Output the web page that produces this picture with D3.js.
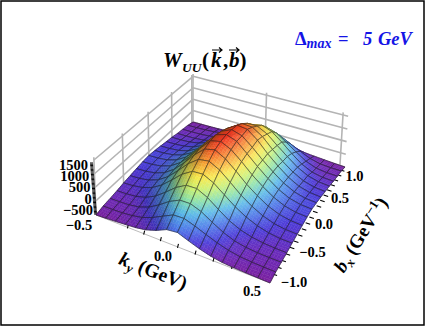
<!DOCTYPE html>
<html>
<head>
<meta charset="utf-8">
<script src="https://cdn.jsdelivr.net/npm/d3@7"></script>
<style>
  body { margin: 0; background: #fff; }
  text { font-family: "Liberation Serif", serif; font-weight: bold; }
</style>
</head>
<body>
<div id="d3-container"></div>
<script>
const kyValues = [-0.5, -0.4375, -0.375, -0.3125, -0.25, -0.1875, -0.125, -0.0625, 0, 0.0625, 0.125, 0.1875, 0.25, 0.3125, 0.375, 0.4375, 0.5];
const bxValues = [-1, -0.875, -0.75, -0.625, -0.5, -0.375, -0.25, -0.125, 0, 0.125, 0.25, 0.375, 0.5, 0.625, 0.75, 0.875, 1];

// one row per bx, one column per ky
const wValues = [
  [-500, -480, -455, -430, -400, -340, -220, -50, -10, -150, -280, -380, -440, -465, -480, -490, -500],
  [-425, -420, -405, -370, -300, -165, 20, 200, 215, 90, -60, -200, -310, -375, -405, -422, -430],
  [-390, -385, -365, -310, -180, 35, 290, 470, 475, 330, 100, -110, -260, -335, -370, -385, -390],
  [-345, -335, -300, -205, -25, 245, 545, 755, 765, 575, 295, 35, -145, -250, -310, -340, -350],
  [-290, -270, -210, -85, 140, 455, 790, 1020, 1040, 850, 555, 265, 40, -125, -230, -285, -295],
  [-250, -230, -170, -30, 215, 565, 945, 1225, 1280, 1080, 760, 430, 170, -35, -170, -235, -255],
  [-210, -190, -130, 5, 260, 625, 1040, 1380, 1470, 1255, 930, 580, 295, 55, -105, -185, -215],
  [-170, -155, -95, 35, 280, 640, 1070, 1470, 1560, 1370, 1045, 685, 385, 130, -50, -145, -175],
  [-150, -135, -85, 35, 270, 630, 1070, 1480, 1600, 1460, 1115, 760, 440, 165, -25, -120, -150],
  [-175, -160, -110, 0, 215, 555, 985, 1400, 1570, 1450, 1130, 770, 450, 165, -35, -140, -170],
  [-215, -200, -160, -60, 140, 465, 875, 1290, 1530, 1480, 1180, 780, 440, 140, -70, -175, -210],
  [-255, -245, -210, -125, 50, 340, 720, 1130, 1380, 1350, 1100, 720, 380, 100, -110, -215, -250],
  [-295, -290, -260, -190, -45, 200, 540, 900, 1180, 1180, 980, 650, 340, 50, -150, -255, -290],
  [-350, -345, -330, -290, -195, -5, 300, 640, 920, 1000, 860, 560, 230, -60, -250, -325, -345],
  [-390, -385, -370, -335, -260, -110, 120, 380, 620, 710, 590, 340, 70, -180, -330, -380, -390],
  [-430, -422, -405, -375, -310, -200, -50, 120, 310, 360, 250, 60, -130, -300, -395, -420, -425],
  [-500, -490, -480, -465, -440, -380, -280, -150, -10, -30, -220, -340, -400, -430, -455, -480, -500],
];

const zTicks = [-500, 0, 500, 1000, 1500];
const zTickLabels = ["\u2212500", "0", "500", "1000", "1500"];
const kyTickLabels = [["\u22120.5", 79, 225], ["0.0", 163, 256], ["0.5", 252, 291]];
const bxTickLabels = [["\u22121.0", 294, 282], ["\u22120.5", 312.5, 252], ["0.0", 324, 224], ["0.5", 340, 198], ["1.0", 354.5, 176]];
const kyMinor = [-0.3, -0.2, -0.1, 0, 0.1, 0.2, 0.3];
const bxMinor = [-0.9, -0.8, -0.7, -0.6, -0.5, -0.4, -0.3, -0.2, -0.1, 0, 0.1, 0.2, 0.3, 0.4, 0.5, 0.6, 0.7, 0.8, 0.9];
const wallBx = [-1, -0.5, 0, 0.5, 0.97];
const wallKy = [-0.5, 0, 0.47];

const width = 425;
const height = 327;

const svg = d3.select('#d3-container')
  .append('svg')
  .attr('width', width)
  .attr('height', height)
  .style('display', 'block');

svg.append('rect')
  .attr('x', 1).attr('y', 1)
  .attr('width', 423).attr('height', 324)
  .attr('fill', '#fff')
  .attr('stroke', '#000')
  .attr('stroke-width', 1.5);

// floor corners on screen, used for the perspective of the box
const L = [96, 215], F = [270, 283], R = [345, 167], B = [193, 122];
const det = (F[0] - R[0]) * (B[1] - R[1]) - (B[0] - R[0]) * (F[1] - R[1]);
const sx = L[0] - F[0] + R[0] - B[0];
const sy = L[1] - F[1] + R[1] - B[1];
const pg = (sx * (B[1] - R[1]) - (B[0] - R[0]) * sy) / det;
const ph = ((F[0] - R[0]) * sy - (F[1] - R[1]) * sx) / det;

const uScale = d3.scaleLinear().domain([-0.5, 0.5]).range([0, 1]);
const vScale = d3.scaleLinear().domain([-1, 1]).range([0, 1]);
const zScale = d3.scaleLinear().domain([-500, 1500]).range([0, 55]);

function project(ky, bx, z) {
  const u = uScale(ky), v = vScale(bx);
  const D = 1 + pg * u + ph * v;
  const X = ((F[0] - L[0] + pg * F[0]) * u + (B[0] - L[0] + ph * B[0]) * v + L[0]) / D;
  const Y = ((F[1] - L[1] + pg * F[1]) * u + (B[1] - L[1] + ph * B[1]) * v + L[1]) / D;
  const h = zScale(z) / D;
  return [X + (X - 190) * 0.0004 * h, Y - h];
}

const color = d3.scaleLinear()
  .domain([-500, -370, -190, 40, 280, 510, 730, 960, 1250, 1600])
  .range(['#7a1f9e', '#6a28b8', '#4838d8', '#4a78e8', '#55b8e8', '#88e0a8', '#c8f070', '#f8e848', '#f89830', '#ee2a1c'])
  .clamp(true);

// light comes from the front right, so slopes rising with ky are darker
function shaded(z, slope) {
  const c = d3.rgb(color(z));
  const s = Math.max(-1, Math.min(1, slope / 400));
  if (s > 0) return d3.rgb(c.r * (1 - 0.42 * s), c.g * (1 - 0.42 * s), c.b * (1 - 0.42 * s)) + '';
  return d3.interpolateRgb(c, '#fff')(-0.18 * s);
}

const line = d3.line();
const wall = svg.append('g').attr('fill', 'none').attr('stroke', '#b4b4b4').attr('stroke-width', 1.6);
const zTop = 1600;

zTicks.forEach(z => {
  wall.append('path').attr('d', line([project(-0.5, -1, z), project(-0.5, 1, z)]));
  wall.append('path').attr('d', line([project(-0.5, 1, z), project(0.5, 1, z)]));
});
wallBx.forEach(b => wall.append('path').attr('d', line([project(-0.5, b, -500), project(-0.5, b, zTop)])));
wallKy.forEach(k => wall.append('path').attr('d', line([project(k, 1, -500), project(k, 1, zTop)])));

// axes under the surface
const axes = svg.append('g');
axes.append('path')
  .attr('d', line([project(-0.5, -1, -500), project(0.5, -1, -500)]))
  .attr('stroke', '#aaa').attr('fill', 'none').attr('stroke-width', 0.8);
kyMinor.forEach(k => {
  const [x, y] = project(k, -1, -500);
  axes.append('path').attr('d', line([[x, y + 1], [x + 1, y - 3]]))
    .attr('stroke', '#000').attr('stroke-width', 1.1);
});
bxMinor.forEach(b => {
  const [x, y] = project(0.5, b, -500);
  axes.append('path').attr('d', line([[x - 2, y - 2], [x + 2.5, y - 0.5]]))
    .attr('stroke', '#000').attr('stroke-width', 1.1);
});

const zAxisX = d3.scaleLinear().domain([-500, 1500]).range([96, 92]);
const zAxisY = d3.scaleLinear().domain([-500, 1500]).range([214, 163]);
d3.range(-500, 1501, 50).forEach(z => {
  axes.append('path')
    .attr('d', line([[zAxisX(z) - 2, zAxisY(z)], [zAxisX(z) + 1, zAxisY(z)]]))
    .attr('stroke', '#000').attr('stroke-width', 1);
});

// surface, far cells first. each cell is cut finer only to shade it smoothly
const surface = svg.append('g');
const nx = kyValues.length, ny = bxValues.length;
const slopeAt = (i, j) => (wValues[j][Math.min(i + 1, nx - 1)] - wValues[j][Math.max(i - 1, 0)]) / (Math.min(i + 1, nx - 1) - Math.max(i - 1, 0));
const steps = 4;
const lerp = (a, b, t) => a + (b - a) * t;

for (let j = ny - 2; j >= 0; j--) {
  for (let i = 0; i < nx - 1; i++) {
    const k0 = kyValues[i], k1 = kyValues[i + 1], b0 = bxValues[j], b1 = bxValues[j + 1];
    const z00 = wValues[j][i], z10 = wValues[j][i + 1], z01 = wValues[j + 1][i], z11 = wValues[j + 1][i + 1];
    const s00 = slopeAt(i, j), s10 = slopeAt(i + 1, j), s01 = slopeAt(i, j + 1), s11 = slopeAt(i + 1, j + 1);
    const bil = (a, b, c, d, p, q) => lerp(lerp(a, b, p), lerp(c, d, p), q);
    const at = (p, q) => project(lerp(k0, k1, p), lerp(b0, b1, q), bil(z00, z10, z01, z11, p, q));

    for (let q = steps - 1; q >= 0; q--) {
      for (let p = 0; p < steps; p++) {
        const p0 = p / steps, p1 = (p + 1) / steps, q0 = q / steps, q1 = (q + 1) / steps;
        const pm = (p0 + p1) / 2, qm = (q0 + q1) / 2;
        const fill = shaded(bil(z00, z10, z01, z11, pm, qm), bil(s00, s10, s01, s11, pm, qm));
        surface.append('path')
          .attr('d', line([at(p0, q0), at(p1, q0), at(p1, q1), at(p0, q1)]) + 'Z')
          .attr('fill', fill)
          .attr('stroke', fill)
          .attr('stroke-width', 0.4);
      }
    }
    surface.append('path')
      .attr('d', line([at(0, 0), at(1, 0), at(1, 1), at(0, 1)]) + 'Z')
      .attr('fill', 'none')
      .attr('stroke', '#1a1a1a')
      .attr('stroke-opacity', 0.7)
      .attr('stroke-width', 0.75);
  }
}

// tick labels
const labels = svg.append('g').attr('font-size', 14.5).attr('fill', '#000');
const zLabelX = d3.scaleLinear().domain([-500, 1500]).range([93, 88]);
const zLabelY = d3.scaleLinear().domain([-500, 1500]).range([215, 169.5]);
zTicks.forEach((z, i) => {
  labels.append('text')
    .attr('x', zLabelX(z)).attr('y', zLabelY(z))
    .attr('text-anchor', 'end')
    .text(zTickLabels[i]);
});
kyTickLabels.concat(bxTickLabels).forEach(([t, x, y]) => {
  labels.append('text')
    .attr('x', x).attr('y', y + 4.5)
    .attr('text-anchor', 'middle')
    .text(t);
});

// axis titles
const kyTitle = svg.append('text')
  .attr('transform', 'translate(151,277) rotate(21.6)')
  .attr('text-anchor', 'middle')
  .attr('font-size', 19.5);
kyTitle.append('tspan').attr('font-style', 'italic').text('k');
kyTitle.append('tspan').attr('font-style', 'italic').attr('font-size', 13).attr('dy', 4).text('y');
kyTitle.append('tspan').attr('dy', -4).text(' (GeV)');

const bxTitle = svg.append('text')
  .attr('transform', 'translate(366,238) rotate(-58)')
  .attr('text-anchor', 'middle')
  .attr('font-size', 19);
bxTitle.append('tspan').attr('font-style', 'italic').text('b');
bxTitle.append('tspan').attr('font-style', 'italic').attr('font-size', 13).attr('dy', 4).text('x');
bxTitle.append('tspan').attr('dy', -4).text(' (GeV');
bxTitle.append('tspan').attr('font-size', 13).attr('dy', -7).text('\u22121');
bxTitle.append('tspan').attr('dy', 7).text(')');

// chart title, the arrows sit over k and b
const title = svg.append('text')
  .attr('x', 163).attr('y', 67)
  .attr('font-size', 21)
  .attr('font-style', 'italic');
title.append('tspan').text('W');
title.append('tspan').attr('font-size', 13.5).attr('x', 182).attr('dy', 5).text('UU');
title.append('tspan').attr('dy', -5).attr('x', 202).attr('font-style', 'normal').text('(');
title.append('tspan').attr('x', 211).text('k');
title.append('tspan').attr('x', 223).attr('font-style', 'normal').text(',');
title.append('tspan').attr('x', 229).text('b');
title.append('tspan').attr('x', 239.5).attr('font-style', 'normal').text(')');

[[212, 222], [229, 239]].forEach(([x0, x1]) => {
  svg.append('path')
    .attr('d', line([[x0, 50], [x1, 50]]) + line([[x1 - 3, 47.5], [x1, 50], [x1 - 3, 52.5]]))
    .attr('fill', 'none').attr('stroke', '#000').attr('stroke-width', 1.2);
});

const note = svg.append('text')
  .attr('x', 295).attr('y', 45)
  .attr('font-size', 18.5)
  .attr('fill', '#1414e6');
note.append('tspan').text('\u0394');
note.append('tspan').attr('font-style', 'italic').attr('font-size', 14).attr('dy', 3).text('max');
note.append('tspan').attr('dy', -3).attr('x', 338).text('=');
note.append('tspan').attr('font-style', 'italic').attr('x', 363).text('5');
note.append('tspan').attr('font-style', 'italic').attr('x', 378).text('GeV');
</script>
</body>
</html>
